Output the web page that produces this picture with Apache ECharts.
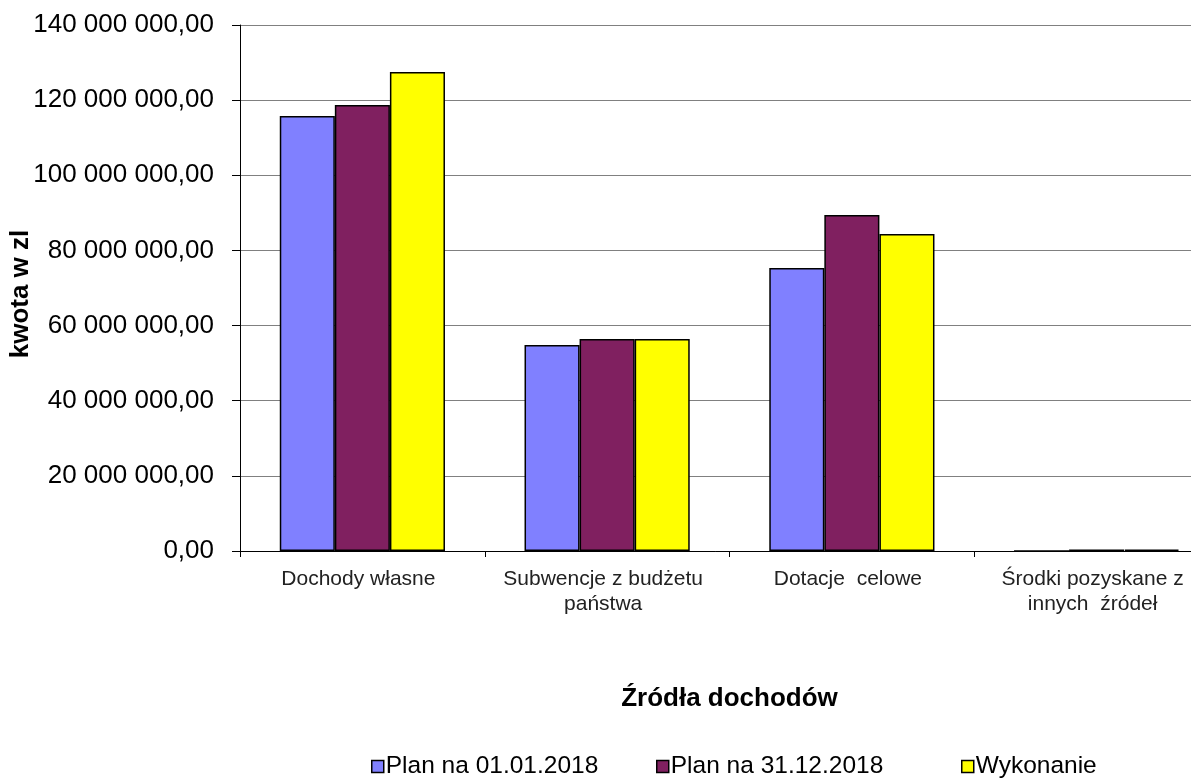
<!DOCTYPE html>
<html><head><meta charset="utf-8">
<script src="https://cdn.jsdelivr.net/npm/echarts@6/dist/echarts.min.js"></script>
<style>html,body{margin:0;padding:0;background:#fff}#c{width:1191px;height:778px}</style>
</head><body><div id="c"></div>
<script>
const categories = ['Dochody własne', 'Subwencje z budżetu\npaństwa', 'Dotacje  celowe', 'Środki pozyskane z\ninnych  źródeł'];
const seriesNames = ['Plan na 01.01.2018', 'Plan na 31.12.2018', 'Wykonanie'];
const planStart = [115800000, 54800000, 75300000, 0];
const planEnd = [118700000, 56400000, 89400000, 400000];
const wykonanie = [127500000, 56400000, 84400000, 380000];
const colors = ['#8080ff', '#802060', '#ffff00'];
const yTicks = {min: 0, max: 140000000, interval: 20000000};

const font = 'Liberation Sans, Arial, sans-serif';
function fmt(v){
  const s = Math.round(v).toString().replace(/\B(?=(\d{3})+(?!\d))/g, ' ');
  return s + ',00';
}
const chart = echarts.init(document.getElementById('c'));
const legendLefts = [366, 651, 956];
chart.setOption({
  animation: false,
  textStyle: {fontFamily: font},
  grid: {left: 240, right: -28, top: 25, bottom: 227, containLabel: false, outerBoundsMode: 'none'},
  legend: seriesNames.map((n, i) => ({
    data: [n], left: legendLefts[i], top: 749, itemWidth: 12, itemHeight: 12, itemGap: 0,
    icon: 'rect',
    itemStyle: {borderColor: '#000', borderWidth: 1.5},
    textStyle: {fontFamily: font, fontSize: 24.5, color: '#000', padding: [0, 0, 0, -3]}
  })),
  xAxis: {
    type: 'category', data: categories,
    name: 'Źródła dochodów', nameLocation: 'middle', nameGap: 135, nameMoveOverlap: false,
    nameTextStyle: {fontFamily: font, fontSize: 26, fontWeight: 'bold', color: '#000'},
    axisLine: {lineStyle: {color: '#000', width: 1}},
    axisTick: {show: true, length: 6, lineStyle: {color: '#000'}},
    axisLabel: {fontFamily: font, fontSize: 21, color: '#222', margin: 16, lineHeight: 25, interval: 0, padding: [0, 8, 0, 0]}
  },
  yAxis: {
    type: 'value', min: yTicks.min, max: yTicks.max, interval: yTicks.interval,
    name: 'kwota w zl', nameLocation: 'middle', nameGap: 206, nameRotate: 90, nameMoveOverlap: false,
    nameTextStyle: {fontFamily: font, fontSize: 26, fontWeight: 'bold', color: '#000', padding: [0, 12, 0, 0]},
    axisLine: {show: true, lineStyle: {color: '#000', width: 1}},
    axisTick: {show: true, length: 8, lineStyle: {color: '#000'}},
    splitLine: {show: true, lineStyle: {color: '#808080', width: 1}},
    axisLabel: {fontFamily: font, fontSize: 26, color: '#000', margin: 26, formatter: fmt}
  },
  series: [planStart, planEnd, wykonanie].map((d, i) => ({
    name: seriesNames[i], type: 'bar', data: d,
    barGap: '0%', barCategoryGap: '32.5%',
    itemStyle: {color: colors[i], borderColor: '#000', borderWidth: 1.5}
  }))
});
</script></body></html>
